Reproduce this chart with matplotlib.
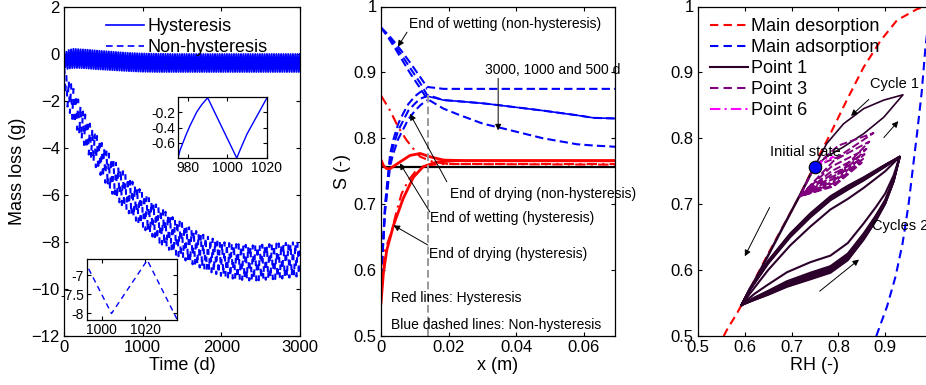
import numpy as np
import matplotlib
matplotlib.use("Agg")
import matplotlib.pyplot as plt
from matplotlib.lines import Line2D

plt.rcParams['font.family'] = ['Liberation Sans', 'DejaVu Sans']
plt.rcParams['axes.linewidth'] = 0.9

# ---------------- Panel 1: mass loss vs time ----------------
env_t = [0, 20, 60, 120, 200, 300, 400, 600, 800, 1000, 1200, 1400, 1600, 1800, 2000, 2200, 2400, 2600, 2800, 3000]
hyst_peak = [0.0, 0.05, 0.15, 0.2, 0.18, 0.16, 0.13, 0.08, 0.03, 0.0, -0.01, -0.02, -0.02, -0.02, -0.02, -0.02, -0.02, -0.02, -0.02, -0.02]
hyst_trough = [-0.3, -0.68, -0.63, -0.61, -0.61, -0.63, -0.66, -0.7, -0.74, -0.77, -0.78, -0.78, -0.78, -0.78, -0.78, -0.78, -0.78, -0.78, -0.78, -0.78]
nonh_peak = [0.0, -0.9, -1.1, -1.5, -2.1, -2.8, -3.4, -4.4, -5.2, -5.9, -6.5, -7.0, -7.4, -7.75, -8.0, -8.1, -8.15, -8.1, -8.05, -8.0]
nonh_trough = [-1.0, -2.0, -2.4, -2.9, -3.5, -4.2, -4.8, -5.9, -6.7, -7.4, -8.0, -8.5, -8.9, -9.2, -9.45, -9.6, -9.65, -9.6, -9.55, -9.45]
half_period_d = 15

inset1_t = [975, 976, 977.5, 979, 981, 984.4, 987, 989, 990, 1004.7, 1007.3, 1009.8, 1014.9, 1020]
inset1_v = [-0.8, -0.7, -0.6, -0.5, -0.38, -0.2, -0.1, -0.04, -0.01, -0.8, -0.64, -0.49, -0.25, -0.01]
inset2_t = [991.9, 1004.5, 1021, 1035.5]
inset2_v = [-6.61, -8.01, -6.61, -8.25]

# ---------------- Panel 2: S profiles ----------------
# blue dashed, non-hysteresis, end of wetting (500, 1000, 3000 d)
wet_x = [0, 0.002, 0.004, 0.006, 0.0086, 0.0116, 0.0136, 0.0185, 0.0234, 0.0303, 0.0353, 0.048, 0.058, 0.063, 0.07]
wet_s_500 = [0.968, 0.958, 0.946, 0.933, 0.915, 0.893, 0.878, 0.875, 0.875, 0.875, 0.875, 0.875, 0.875, 0.875, 0.875]
wet_s_1000 = [0.968, 0.956, 0.942, 0.927, 0.907, 0.884, 0.866, 0.858, 0.856, 0.853, 0.85, 0.842, 0.835, 0.831, 0.830]
wet_s_3000 = [0.968, 0.954, 0.938, 0.921, 0.899, 0.876, 0.86, 0.845, 0.835, 0.822, 0.816, 0.80, 0.791, 0.789, 0.787]
# blue dashed, non-hysteresis, end of drying
dry_x = [0, 0.0005, 0.0012, 0.0027, 0.0036, 0.0051, 0.0066, 0.0081, 0.0101, 0.0116, 0.0136]
dry_s_500 = [0.59, 0.63, 0.70, 0.776, 0.797, 0.822, 0.838, 0.852, 0.864, 0.870, 0.876]
dry_s_1000 = [0.59, 0.628, 0.694, 0.767, 0.787, 0.812, 0.827, 0.842, 0.853, 0.860, 0.864]
dry_s_3000 = [0.59, 0.626, 0.688, 0.758, 0.776, 0.799, 0.814, 0.829, 0.842, 0.850, 0.858]
dry1000_x = [0.0136, 0.0185, 0.0234, 0.0303, 0.0353, 0.048, 0.058, 0.063, 0.07]
dry1000_s = [0.864, 0.858, 0.856, 0.853, 0.85, 0.842, 0.835, 0.831, 0.830]
# red, hysteresis
rdry_x = [0, 0.0007, 0.0017, 0.0037, 0.0066, 0.0096, 0.0125, 0.0165, 0.022, 0.07]
rdry_s = [0.55, 0.595, 0.63, 0.668, 0.709, 0.741, 0.757, 0.764, 0.766, 0.766]
rwet_x = [0, 0.0008, 0.0017, 0.0027, 0.0056, 0.0086, 0.0116, 0.0145, 0.0185, 0.025, 0.07]
rwet_s = [0.767, 0.758, 0.754, 0.754, 0.764, 0.774, 0.777, 0.772, 0.767, 0.766, 0.766]
rdd_fall_x = [0, 0.0027, 0.0051, 0.0076, 0.0096, 0.0116, 0.0155, 0.02, 0.07]
rdd_fall_s = [0.865, 0.842, 0.817, 0.797, 0.784, 0.772, 0.764, 0.761, 0.760]
rdd_rise_x = [0, 0.0005, 0.0012, 0.0032, 0.0047, 0.0061, 0.0081, 0.0101, 0.0135, 0.018, 0.07]
rdd_rise_s = [0.57, 0.59, 0.63, 0.66, 0.691, 0.716, 0.736, 0.749, 0.759, 0.761, 0.761]
init_s_x = [0, 0.07]
init_s = [0.756, 0.756]
front_x = 0.014
front_s = [0.5, 0.872]

# ---------------- Panel 3: S vs RH ----------------
des_rh = [0.555, 0.5615, 0.583, 0.593, 0.65, 0.718, 0.754, 0.783, 0.818, 0.854, 0.89, 0.925, 0.968, 0.985, 1.0]
des_s = [0.5, 0.509, 0.534, 0.547, 0.625, 0.714, 0.767, 0.807, 0.858, 0.908, 0.948, 0.979, 0.996, 1.0, 1.0]
ads_rh = [0.881, 0.904, 0.922, 0.937, 0.95, 0.96, 0.968, 0.978, 0.986, 0.993, 1.0]
ads_s = [0.5, 0.545, 0.59, 0.64, 0.70, 0.76, 0.807, 0.87, 0.938, 0.98, 1.0]
init_rh, init_sv = 0.749, 0.757

p1_rh = [0.749, 0.775, 0.811, 0.854, 0.897, 0.938, 0.897, 0.854, 0.811, 0.775, 0.749]
p1_s = [0.757, 0.772, 0.787, 0.807, 0.832, 0.866, 0.858, 0.845, 0.822, 0.792, 0.757]
p1_desc_rh = [0.749, 0.718, 0.68, 0.64, 0.593]
p1_desc_s = [0.757, 0.714, 0.663, 0.609, 0.547]
loop_wet_rh = [0.593, 0.62, 0.65, 0.69, 0.74, 0.783, 0.82, 0.854, 0.88, 0.9, 0.918, 0.931]
loop_wet_s = [0.547, 0.556, 0.565, 0.578, 0.590, 0.60, 0.619, 0.65, 0.678, 0.703, 0.736, 0.772]
loop_wet_w = [0, 0.35, 0.6, 0.85, 1, 1, 1, 0.95, 0.8, 0.6, 0.35, 0]
loop_dry_rh = [0.931, 0.9, 0.854, 0.82, 0.783, 0.74, 0.697, 0.65, 0.611, 0.593]
loop_dry_s = [0.772, 0.757, 0.736, 0.722, 0.706, 0.68, 0.65, 0.61, 0.57, 0.547]
loop_dry_w = [0, 0.5, 0.8, 1, 1, 1, 0.9, 0.7, 0.4, 0]
cyc_wet_off = [0.022, 0.006, 0.004, 0.002, 0.0, -0.002, -0.003, -0.004]
cyc_dry_off = [-0.014, 0.0, 0.001, 0.002, 0.003, 0.004, 0.005, 0.006]

p3_rh = [0.749, 0.80, 0.875, 0.80, 0.749, 0.718, 0.79, 0.866, 0.79, 0.718, 0.79, 0.86, 0.785, 0.718,
         0.79, 0.856, 0.785, 0.718, 0.79, 0.853, 0.785, 0.718, 0.79, 0.85, 0.785, 0.718]
p3_s = [0.757, 0.772, 0.808, 0.789, 0.757, 0.712, 0.739, 0.795, 0.766, 0.712, 0.735, 0.784, 0.757, 0.712,
        0.732, 0.776, 0.750, 0.712, 0.729, 0.769, 0.745, 0.712, 0.727, 0.763, 0.741, 0.712]
p6_rh = [0.749, 0.77, 0.79, 0.77, 0.749]
p6_s = [0.757, 0.764, 0.772, 0.768, 0.757]

# ---------------- Figure ----------------
W, H = 926, 385
fig = plt.figure(figsize=(W / 100, H / 100), dpi=100)

def rect(l, r, t, b):
    return [l / W, 1 - b / H, (r - l) / W, (b - t) / H]

def style(ax, size=12):
    ax.tick_params(direction='in', top=True, right=True, length=3, width=0.8, labelsize=size, pad=3)

blue = (0, 0, 1)
red = (1, 0, 0)

# ---- Panel 1
ax1 = fig.add_axes(rect(64, 300, 6.5, 336))
half = half_period_d
t_nodes = np.arange(0, 3000 + half, half)
par = (np.round(t_nodes / half).astype(int) % 2 == 0)
h_vals = np.where(par, np.interp(t_nodes, env_t, hyst_peak), np.interp(t_nodes, env_t, hyst_trough))
n_vals = np.where(par, np.interp(t_nodes, env_t, nonh_peak), np.interp(t_nodes, env_t, nonh_trough))
ax1.plot(t_nodes, h_vals, color=blue, lw=1.4)
ax1.plot(t_nodes, n_vals, color=blue, lw=1.5, linestyle=(0, (2.7, 4.5)))
ax1.set_xlim(0, 3000)
ax1.set_ylim(-12, 2)
ax1.set_xticks([0, 1000, 2000, 3000])
ax1.set_yticks(range(-12, 3, 2))
style(ax1)
ax1.set_xlabel('Time (d)', fontsize=13, labelpad=1)
ax1.set_ylabel('Mass loss (g)', fontsize=13, labelpad=4)
hdl = [Line2D([], [], color=blue, lw=1.2), Line2D([], [], color=blue, lw=1.2, linestyle=(0, (4, 2.5)))]
ax1.legend(hdl, ['Hysteresis', 'Non-hysteresis'], loc='upper left', bbox_to_anchor=(0.178, 0.964),
           frameon=False, fontsize=13, borderpad=0, borderaxespad=0, handlelength=2.1,
           handletextpad=0.2, labelspacing=0.22)

ins1 = fig.add_axes(rect(178, 267, 97, 158))
ins1.plot(inset1_t, inset1_v, color=blue, lw=1.0)
ins1.set_xlim(975, 1020)
ins1.set_ylim(-0.8, 0.0)
ins1.set_xticks([980, 1000, 1020])
ins1.set_yticks([-0.6, -0.4, -0.2])
ins1.set_yticklabels(['-0.6', '-0.4', '-0.2'])
style(ins1, 10)
ins1.tick_params(pad=2)

ins2 = fig.add_axes(rect(87, 177, 259, 320))
ins2.plot(inset2_t, inset2_v, color=blue, lw=1.0, linestyle=(0, (4, 3)))
ins2.set_xlim(993.2, 1034.7)
ins2.set_ylim(-8.18, -6.58)
ins2.set_xticks([1000, 1020])
ins2.set_yticks([-8, -7.5, -7])
ins2.set_yticklabels(['-8', '-7.5', '-7'])
style(ins2, 10)
ins2.tick_params(pad=2)
for a in (ins1, ins2):
    a.set_facecolor('white')

# ---- Panel 2
ax2 = fig.add_axes(rect(381, 615, 6.5, 336))
bd = dict(color=blue, lw=1.5, linestyle=(0, (4, 2)))
for s in (wet_s_500, wet_s_1000, wet_s_3000):
    ax2.plot(wet_x, s, **bd)
for s in (dry_s_500, dry_s_1000, dry_s_3000):
    ax2.plot(dry_x, s, **bd)
ax2.plot(dry1000_x, dry1000_s, color=blue, lw=1.2)
ax2.plot(init_s_x, init_s, color='black', lw=1.6)
ax2.plot(rdry_x, rdry_s, color=red, lw=2.0)
ax2.plot(rwet_x, rwet_s, color=red, lw=2.0)
dd = dict(color=red, lw=1.5, linestyle=(0, (5, 2.5, 1, 2.5)))
ax2.plot(rdd_fall_x, rdd_fall_s, **dd)
ax2.plot(rdd_rise_x, rdd_rise_s, **dd)
ax2.plot([front_x, front_x], front_s, color=(0.6, 0.6, 0.6), lw=1.4, linestyle=(0, (4, 2)))
ax2.set_xlim(0, 0.0693)
ax2.set_ylim(0.5, 1.0)
ax2.set_xticks([0, 0.02, 0.04, 0.06])
ax2.set_xticklabels(['0', '0.02', '0.04', '0.06'])
ax2.set_yticks([0.5, 0.6, 0.7, 0.8, 0.9, 1.0])
ax2.set_yticklabels(['0.5', '0.6', '0.7', '0.8', '0.9', '1'])
style(ax2)
ax2.set_xlabel('x (m)', fontsize=13, labelpad=1)
ax2.set_ylabel('S (-)', fontsize=13, labelpad=2)

tk = dict(fontsize=10, ha='left', va='center')
ap = dict(arrowstyle='-|>', color='black', lw=0.7, mutation_scale=9, shrinkA=0, shrinkB=0)
ax2.text(0.0083, 0.974, 'End of wetting (non-hysteresis)', **tk)
ax2.annotate('', xy=(0.005, 0.939), xytext=(0.0077, 0.961), arrowprops=ap)
ax2.text(0.0308, 0.903, '3000, 1000 and 500 d', **tk, clip_on=False)
ax2.annotate('', xy=(0.0347, 0.812), xytext=(0.0347, 0.891), arrowprops=ap)
ax2.text(0.0204, 0.716, 'End of drying (non-hysteresis)', **tk)
ax2.annotate('', xy=(0.0086, 0.837), xytext=(0.0195, 0.734), arrowprops=ap)
ax2.text(0.0145, 0.679, 'End of wetting (hysteresis)', **tk)
ax2.annotate('', xy=(0.0056, 0.762), xytext=(0.0145, 0.688), arrowprops=ap)
ax2.text(0.0142, 0.624, 'End of drying (hysteresis)', **tk)
ax2.annotate('', xy=(0.0037, 0.668), xytext=(0.0139, 0.638), arrowprops=ap)
ax2.text(0.0029, 0.557, 'Red lines: Hysteresis', **tk)
ax2.text(0.003, 0.516, 'Blue dashed lines: Non-hysteresis', **tk)

# ---- Panel 3
ax3 = fig.add_axes(rect(698, 932, 6.5, 336))
ax3.plot(des_rh, des_s, color=red, lw=1.5, linestyle=(0, (4, 2.5)))
ax3.plot(ads_rh, ads_s, color=blue, lw=1.5, linestyle=(0, (4, 2.5)))
c1 = (0.17, 0.0, 0.17)
ax3.plot(p1_rh, p1_s, color=c1, lw=1.2)
ax3.plot(p1_desc_rh, p1_desc_s, color=c1, lw=1.8)
wrh = np.array(loop_wet_rh); ws = np.array(loop_wet_s); ww = np.array(loop_wet_w)
drh = np.array(loop_dry_rh); ds = np.array(loop_dry_s); dw = np.array(loop_dry_w)
for ow, od in zip(cyc_wet_off, cyc_dry_off):
    ax3.plot(np.r_[wrh, drh[1:]], np.r_[ws + ow * ww, (ds + od * dw)[1:]], color=c1, lw=1.5)
ax3.plot(p3_rh, p3_s, color=(0.5, 0.0, 0.5), lw=1.4, linestyle=(0, (4, 1.5)))
ax3.plot(p6_rh, p6_s, color=(1, 0, 1), lw=1.2, linestyle=(0, (5, 2, 1, 2)))
ax3.plot([init_rh], [init_sv], 'o', ms=9, mfc=blue, mec='black', mew=0.8, zorder=5)
ax3.set_xlim(0.5, 1.0)
ax3.set_ylim(0.5, 1.0)
ax3.set_xticks([0.5, 0.6, 0.7, 0.8, 0.9, 1.0])
ax3.set_xticklabels(['0.5', '0.6', '0.7', '0.8', '0.9', '1'])
ax3.set_yticks([0.5, 0.6, 0.7, 0.8, 0.9, 1.0])
ax3.set_yticklabels(['0.5', '0.6', '0.7', '0.8', '0.9', '1'])
style(ax3)
ax3.set_xlabel('RH (-)', fontsize=13, labelpad=1)
h3 = [Line2D([], [], color=red, lw=1.5, linestyle=(0, (4, 2.5))),
      Line2D([], [], color=blue, lw=1.5, linestyle=(0, (4, 2.5))),
      Line2D([], [], color=c1, lw=1.5),
      Line2D([], [], color=(0.5, 0, 0.5), lw=1.5, linestyle=(0, (4, 2.5))),
      Line2D([], [], color=(1, 0, 1), lw=1.5, linestyle=(0, (5, 2, 1, 2)))]
ax3.legend(h3, ['Main desorption', 'Main adsorption', 'Point 1', 'Point 3', 'Point 6'],
           loc='upper left', bbox_to_anchor=(0.051, 0.964), frameon=False, fontsize=13,
           borderpad=0, borderaxespad=0, handlelength=2.1, handletextpad=0.2, labelspacing=0.22)
ax3.text(0.73, 0.779, 'Initial state', fontsize=10.5, ha='center', va='center')
ax3.text(0.868, 0.883, 'Cycle 1', fontsize=10.5, ha='left', va='center')
ax3.text(0.8715, 0.667, 'Cycles 2', fontsize=10.5, ha='left', va='center')
ap3 = dict(arrowstyle='-|>', color='black', lw=0.7, mutation_scale=9, shrinkA=0, shrinkB=0)
ax3.annotate('', xy=(0.827, 0.834), xytext=(0.865, 0.859), arrowprops=ap3)
ax3.annotate('', xy=(0.928, 0.826), xytext=(0.897, 0.801), arrowprops=ap3)
ax3.annotate('', xy=(0.600, 0.621), xytext=(0.653, 0.695), arrowprops=ap3)
ax3.annotate('', xy=(0.844, 0.616), xytext=(0.760, 0.568), arrowprops=ap3)

fig.savefig('out.png', dpi=100)
